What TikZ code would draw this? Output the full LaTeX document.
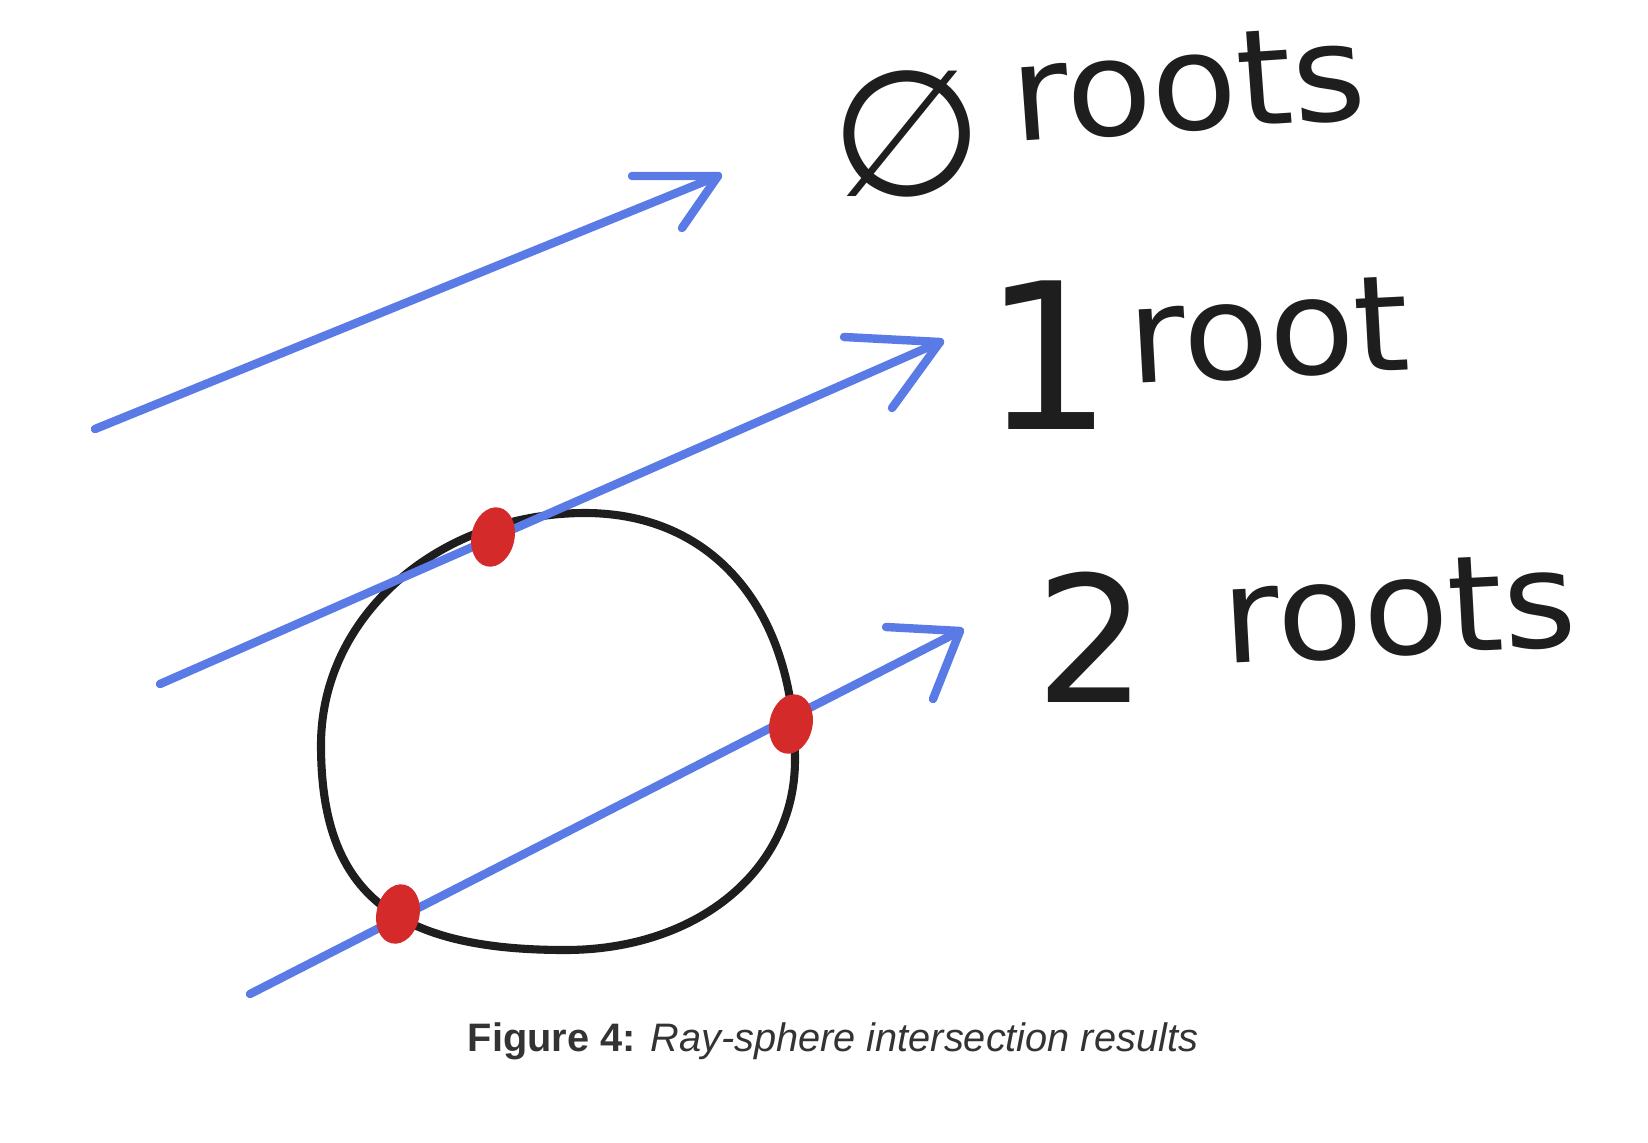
\documentclass[tikz,border=0pt]{standalone}
\usepackage{fontspec}
\setmainfont{Liberation Sans}
\newfontfamily\handfont{DejaVu Sans}
\usetikzlibrary{arrows.meta, positioning, shapes.geometric}
\definecolor{RayBlue}{HTML}{5A7BE6}
\definecolor{HitRed}{HTML}{D42A2A}
\definecolor{InkBlack}{HTML}{1E1E1E}
\definecolor{CaptionGray}{HTML}{333333}
\tikzset{
    ray/.style={
        line width=2.4pt,
        line cap=round,
        line join=round,
        RayBlue
    },
    sphere/.style={
        draw=InkBlack,
        line width=2.3pt
    },
    hit/.style={
        ellipse,
        fill=HitRed,
        minimum width=4.3mm,
        minimum height=6mm,
        inner sep=0pt,
        rotate=-12
    },
    numlabel/.style={
        font=\handfont\fontsize{#1}{#1}\selectfont,
        text=InkBlack,
        inner sep=0pt,
        anchor=base west
    },
    numlabel/.default=54,
    wordlabel/.style={
        font=\handfont\fontsize{38}{38}\selectfont,
        text=InkBlack,
        inner sep=0pt,
        anchor=base west,
        xscale=1.05,
        rotate=3
    },
    caption/.style={
        font=\fontsize{11.3}{13}\selectfont,
        text=CaptionGray,
        inner sep=0pt
    }
}
\begin{document}
\begin{tikzpicture}[x=0.01cm, y=-0.01cm]
    \useasboundingbox (0,0) rectangle (1648,1142);

    % sphere
    \draw[sphere] (585,513) .. controls (715,513) and (795,612) .. (795,760)
        .. controls (795,868) and (700,950) .. (565,950)
        .. controls (390,950) and (321,890) .. (321,745)
        .. controls (321,615) and (440,513) .. (585,513) -- cycle;

    % rays
    \coordinate (r0s) at (95,429);
    \coordinate (r0e) at (718,176);
    \coordinate (r1s) at (160,684);
    \coordinate (r1e) at (940,342);
    \coordinate (r2s) at (250,994);
    \coordinate (r2e) at (960,631);
    \draw[ray] (r0s) -- (r0e);
    \draw[ray] (r1s) -- (r1e);
    \draw[ray] (r2s) -- (r2e);

    % open heads, drawn by hand
    \draw[ray] (r0e) ++(-86,0) -- (r0e) -- ++(-36,52);
    \draw[ray] (r1e) ++(-96,-5) -- (r1e) -- ++(-48,66);
    \draw[ray] (r2e) ++(-74,-4) -- (r2e) -- ++(-27,68);

    % intersections
    \node[hit] (hit1) at (493,537) {};
    \node[hit] (hit2a) at (398,914) {};
    \node[hit] (hit2b) at (791,724) {};

    % labels
    \node[numlabel=50] (num0) at (830,195) {∅};
    \node[wordlabel, rotate=1] (word0) at (1014,142) {roots};
    \node[numlabel=58] (num1) at (983,429) {1};
    \node[wordlabel] (word1) at (1130,384) {root};
    \node[numlabel=50] (num2) at (1035,702) {2};
    \node[wordlabel] (word2) at (1224,664) {roots};

    \node[caption] (cap) at (833,1041) {\textbf{Figure 4:} \textit{Ray-sphere intersection results}};
\end{tikzpicture}
\end{document}
